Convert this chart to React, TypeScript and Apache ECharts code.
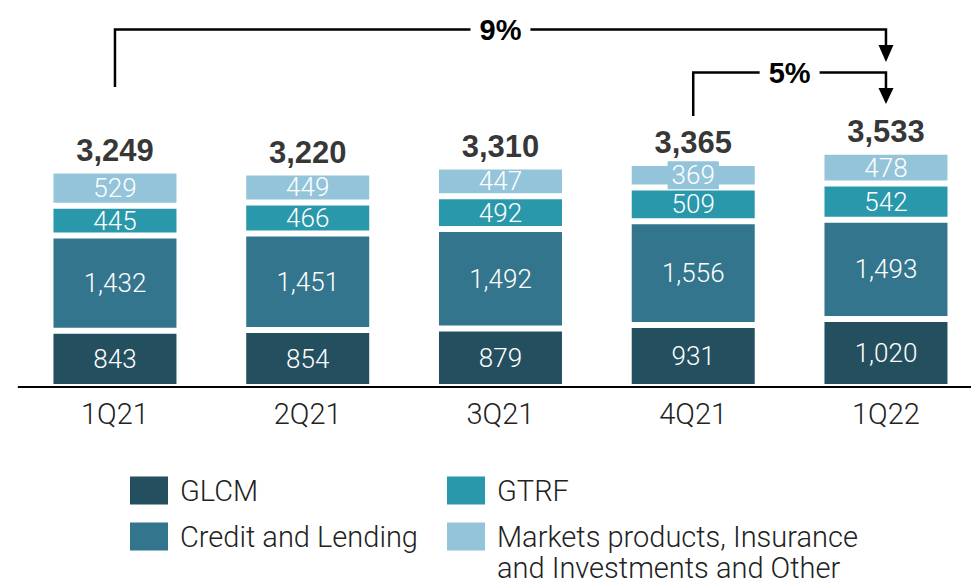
import React, { useEffect, useRef } from "react";
import * as echarts from "echarts";

const categories = ["1Q21", "2Q21", "3Q21", "4Q21", "1Q22"];
const glcm = [843, 854, 879, 931, 1020];
const credit = [1432, 1451, 1492, 1556, 1493];
const gtrf = [445, 466, 492, 509, 542];
const markets = [529, 449, 447, 369, 478];
const seriesNames = ["GLCM", "Credit and Lending", "GTRF", "Markets products, Insurance"];
const marketsSecondLine = "and Investments and Other";
const colors = ["#244f5f", "#33758d", "#2a98ab", "#93c4d9"];

const LIGHT = "Roboto, 'Noto Sans', sans-serif";
const BOLD = "'Liberation Sans', Arial, sans-serif";
const Y_MAX = 4000;
const PLOT_H = 266.4;

const fmt = (v: number) => v.toLocaleString("en-US");

export default function App() {
  const ref = useRef<HTMLDivElement>(null);
  useEffect(() => {
    if (!ref.current) return;
    const chart = echarts.init(ref.current, null, { renderer: "svg" });
    const values = [glcm, credit, gtrf, markets];
    const totals = categories.map((_, i) => values.reduce((s, arr) => s + arr[i], 0));

    const barSeries = values.map((data, k) => ({
      name: seriesNames[k],
      type: "bar",
      stack: "total",
      data: data.map((v) =>
        (v * PLOT_H) / Y_MAX - 3 < 26
          ? { value: v, label: { backgroundColor: colors[k], padding: [1, 4] } }
          : v
      ),
      barWidth: 129,
      itemStyle: { color: colors[k], borderColor: "#fff", borderWidth: 3 },
      label: {
        show: true,
        position: "inside",
        formatter: (p: any) => fmt(p.value),
        color: "#fff",
        fontSize: 26,
        lineHeight: 26,
        fontFamily: LIGHT,
        fontWeight: 300,
      },
    }));

    const legendCommon = {
      orient: "vertical",
      top: 476,
      padding: 0,
      itemWidth: 38,
      itemHeight: 28,
      itemGap: 17,
      icon: "rect",
      itemStyle: { borderWidth: 0 },
      textStyle: { fontSize: 29, lineHeight: 28, fontFamily: LIGHT, fontWeight: 300, color: "#222", padding: [0, 0, 0, 7] },
      selectedMode: false,
    };

    chart.setOption({
      animation: false,
      grid: { left: 18.6, top: 387 - PLOT_H, width: 963.75, height: PLOT_H },
      xAxis: {
        type: "category",
        data: categories,
        z: 10,
        axisLine: { lineStyle: { color: "#000", width: 2 } },
        axisTick: { show: false },
        axisLabel: { fontSize: 29, color: "#222", margin: 12, fontFamily: LIGHT, fontWeight: 300 },
      },
      yAxis: { type: "value", min: 0, max: Y_MAX, show: false, splitLine: { show: false } },
      legend: [
        { ...legendCommon, left: 130, data: [seriesNames[0], seriesNames[1]] },
        { ...legendCommon, left: 447, data: [seriesNames[2], seriesNames[3]] },
      ],
      series: [
        ...barSeries,
        {
          name: "Total",
          type: "scatter",
          data: totals,
          symbolSize: 1,
          itemStyle: { color: "rgba(0,0,0,0)" },
          label: {
            show: true,
            position: "top",
            distance: 4,
            formatter: (p: any) => fmt(p.value),
            color: "#000",
            fontSize: 31,
            fontWeight: "bold",
            fontFamily: BOLD,
          },
        },
      ],
    });

    const px = (i: number) => chart.convertToPixel({ xAxisIndex: 0 }, categories[i]) as number;
    const x1 = px(0);
    const x4 = px(3);
    const x5 = px(4);
    const n = categories.length - 1;
    const g1 = Math.round((totals[n] / totals[0] - 1) * 100);
    const g2 = Math.round((totals[n] / totals[n - 1] - 1) * 100);
    const lineStyle = { stroke: "#000", lineWidth: 2.5, fill: null };
    const pctFont = { fontSize: 29, fontWeight: "bold", fontFamily: BOLD, fill: "#000" };

    chart.setOption({
      graphic: [
        { type: "polyline", shape: { points: [[x1, 87], [x1, 29.5], [x5, 29.5], [x5, 46]] }, style: lineStyle },
        { type: "polygon", shape: { points: [[x5 - 7.5, 45], [x5 + 7.5, 45], [x5, 62]] }, style: { fill: "#000" } },
        {
          type: "text",
          x: (x1 + x5) / 2,
          y: 30,
          style: { text: `${g1}%`, align: "center", verticalAlign: "middle", backgroundColor: "#fff", padding: [2, 9], ...pctFont },
        },
        { type: "polyline", shape: { points: [[x4, 116], [x4, 72.5], [x5, 72.5], [x5, 89]] }, style: lineStyle },
        { type: "polygon", shape: { points: [[x5 - 7.5, 88], [x5 + 7.5, 88], [x5, 104]] }, style: { fill: "#000" } },
        {
          type: "text",
          x: (x4 + x5) / 2,
          y: 73,
          style: { text: `${g2}%`, align: "center", verticalAlign: "middle", backgroundColor: "#fff", padding: [2, 9], ...pctFont },
        },
        {
          type: "text",
          x: 497,
          y: 568,
          style: { text: marketsSecondLine, align: "left", verticalAlign: "middle", fontSize: 29, lineHeight: 26, fontFamily: LIGHT, fontWeight: 300, fill: "#222" },
        },
      ],
    });

    return () => chart.dispose();
  }, []);
  return (
    <div style={{ position: "absolute", left: 0, top: 0, width: 971, height: 585, overflow: "hidden" }}>
      <div ref={ref} style={{ width: 984, height: 585 }} />
    </div>
  );
}
